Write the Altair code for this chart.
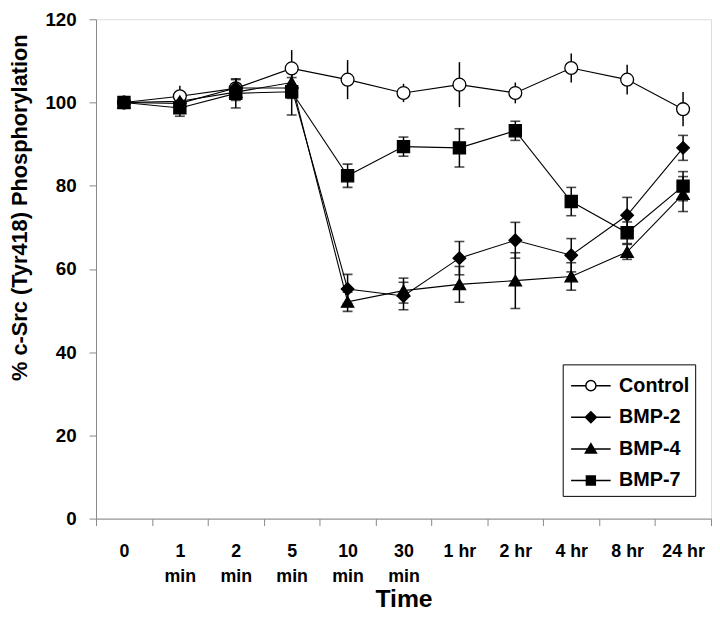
import altair as alt
import pandas as pd

# ---- data ----
times = ["0", "1\nmin", "2\nmin", "5\nmin", "10\nmin", "30\nmin",
         "1 hr", "2 hr", "4 hr", "8 hr", "24 hr"]
series_names = ["Control", "BMP-2", "BMP-4", "BMP-7"]

control = [100, 101.5, 103.4, 108.2, 105.5, 102.3, 104.3, 102.3, 108.3, 105.5, 98.4]
control_err = [0, 2.5, 2.5, 4.4, 4.7, 2.2, 5.4, 2.5, 3.5, 3.6, 4.1]
bmp2 = [100, 99.8, 103.5, 103.5, 55.2, 53.5, 62.6, 66.9, 63.3, 72.9, 89.1]
bmp2_err = [0, 1.5, 2.0, 2.5, 3.5, 3.3, 4.0, 4.3, 4.0, 4.3, 3.0]
bmp4 = [100, 100.3, 102.5, 104.8, 52.1, 54.8, 56.3, 57.2, 58.2, 64.1, 78.0]
bmp4_err = [0, 1.5, 2.0, 2.5, 2.3, 3.0, 4.3, 6.7, 3.3, 1.8, 4.2]
bmp7 = [100, 98.7, 102.2, 102.6, 82.4, 89.4, 89.1, 93.2, 76.2, 68.7, 79.9]
bmp7_err = [0, 2.0, 3.5, 5.6, 2.8, 2.3, 4.6, 2.3, 3.4, 2.6, 3.5]

y_ticks = [0, 20, 40, 60, 80, 100, 120]

values = {"Control": control, "BMP-2": bmp2, "BMP-4": bmp4, "BMP-7": bmp7}
errors = {"Control": control_err, "BMP-2": bmp2_err, "BMP-4": bmp4_err, "BMP-7": bmp7_err}

rows = []
for s in series_names:
    for t, v, e in zip(times, values[s], errors[s]):
        rows.append({"series": s, "time": t, "value": v, "err": e,
                     "lo": v - e, "hi": v + e})
df = pd.DataFrame(rows)

FONT = "Liberation Sans"

# legend symbols: line with marker (custom SVG paths, unit = 15.5 px)
legend_paths = [
    "M-1.29,0L-0.33,0M0.33,0L1.29,0M0.33,0A0.33,0.33,0,1,1,-0.33,0A0.33,0.33,0,1,1,0.33,0Z",
    "M-1.29,0L1.29,0M0,-0.36L0.36,0L0,0.36L-0.36,0Z",
    "M-1.29,0L1.29,0M0,-0.34L0.36,0.26L-0.36,0.26Z",
    "M-1.29,0L1.29,0M-0.29,-0.29L0.29,-0.29L0.29,0.29L-0.29,0.29Z",
]

x_enc = alt.X(
    "time:N", sort=times,
    scale=alt.Scale(type="band", paddingInner=0, paddingOuter=0),
    axis=alt.Axis(
        title="Time", labelAngle=0, tickBand="extent",
        labelExpr="split(datum.label, '\\n')",
        labelFontSize=18, labelFontWeight="bold", labelLineHeight=26,
        labelPadding=17, tickSize=7, labelBaseline="top",
        titleFontSize=25, titleFontWeight="bold", titleBaseline="alphabetic",
        titleX=311, titleY=89, titleAlign="center",
    ),
)
y_enc = alt.Y(
    "value:Q",
    scale=alt.Scale(domain=[0, 120], nice=False, zero=True),
    axis=alt.Axis(
        title="% c-Src (Tyr418) Phosphorylation", values=y_ticks,
        labelFontSize=19, labelFontWeight="bold", labelPadding=13, tickSize=7,
        titleFontSize=22, titleFontWeight="bold", titleAngle=270,
        titleX=-70, titleY=190, titleBaseline="alphabetic", titleAlign="center",
        grid=False,
    ),
)

base = alt.Chart(df)

err_rules = base.mark_rule(color="black", strokeWidth=1.5).encode(
    x=x_enc, y=alt.Y("lo:Q"), y2="hi:Q"
).transform_filter("datum.err > 0")

caps_lo = base.mark_tick(color="black", size=10, thickness=1.6, orient="horizontal").encode(
    x=x_enc, y=alt.Y("lo:Q")
).transform_filter("datum.err > 0 && datum.series != 'Control'")

caps_hi = base.mark_tick(color="black", size=10, thickness=1.6, orient="horizontal").encode(
    x=x_enc, y=alt.Y("hi:Q")
).transform_filter("datum.err > 0 && datum.series != 'Control'")

lines = base.mark_line(color="black").encode(
    x=x_enc, y=y_enc,
    detail="series:N",
    strokeWidth=alt.StrokeWidth("series:N", scale=alt.Scale(domain=series_names, range=[1.1, 1.1, 2.2, 2.2]), legend=None),
)

points = base.mark_point(filled=True, stroke="black", strokeWidth=1.3, opacity=1).encode(
    x=x_enc, y=y_enc,
    shape=alt.Shape("series:N", scale=alt.Scale(domain=series_names,
                    range=["circle", "diamond", "triangle-up", "square"]), legend=None),
    fill=alt.Fill("series:N", scale=alt.Scale(domain=series_names,
                  range=["white", "black", "black", "black"]), legend=None),
    size=alt.Size("series:N", scale=alt.Scale(domain=series_names,
                  range=[169, 150, 150, 121]), legend=None),
)

legend_props = dict(
    title=None, orient="none", legendX=472, legendY=349,
    strokeColor="black", fillColor="white", padding=5, rowPadding=5,
    symbolSize=961, symbolStrokeWidth=1.5, symbolStrokeColor="black",
    symbolOpacity=1, symbolOffset=7, labelOffset=12,
    labelFont=FONT, labelFontSize=20, labelFontWeight="bold", labelColor="black",
    cornerRadius=0,
)

legend_layer = base.mark_point(filled=True, opacity=0).encode(
    x=x_enc, y=y_enc,
    shape=alt.Shape("series:N", scale=alt.Scale(domain=series_names, range=legend_paths),
                    legend=alt.Legend(**legend_props)),
    fill=alt.Fill("series:N", scale=alt.Scale(domain=series_names,
                  range=["white", "black", "black", "black"]),
                  legend=alt.Legend(**legend_props)),
    stroke=alt.Stroke("series:N", scale=alt.Scale(domain=series_names,
                      range=["black", "black", "black", "black"]),
                      legend=alt.Legend(**legend_props)),
)

chart = alt.layer(err_rules, caps_lo, caps_hi, lines, points, legend_layer).resolve_scale(
    shape="independent", fill="independent", size="independent",
    strokeWidth="independent", stroke="independent"
).properties(
    width=622, height=505,
    autosize=alt.AutoSizeParams(type="none"),
    padding={"left": 89, "top": 8, "right": 1, "bottom": 90},
).configure_view(stroke=None).configure_axis(
    labelFont=FONT, titleFont=FONT, labelColor="black", titleColor="black",
    domainColor="black", tickColor="black", domainWidth=1, tickWidth=1,
).configure(background="white")

chart.save("out.html", embed_options={"renderer": "svg", "actions": False})
